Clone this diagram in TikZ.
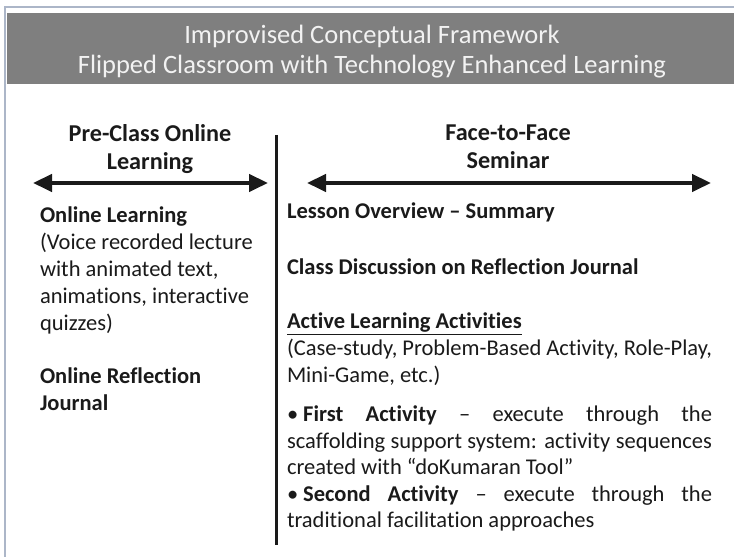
\documentclass[tikz,border=0pt]{standalone}
\usepackage{fontspec}
\setmainfont{Carlito}[Ligatures=NoCommon]
\usetikzlibrary{arrows.meta}

\tikzset{
  titletext/.style={text=titleColor,anchor=base,inner sep=0pt,outer sep=0pt,font=\fontsize{26.5}{30}\selectfont},
  headtext/.style={text=inkColor,anchor=base,inner sep=0pt,outer sep=0pt,align=center,font=\fontsize{24.2}{28}\selectfont\bfseries},
  bodytext/.style={text=inkColor,anchor=base west,inner sep=0pt,outer sep=0pt,font=\fontsize{22.5}{27}\selectfont},
  twoway/.style={draw=inkColor,line width=4.5pt,{Triangle[length=19pt,width=17pt]}-{Triangle[length=19pt,width=17pt]}},
}

\begin{document}
\begin{tikzpicture}[x=1pt,y=1pt]
\definecolor{fillColor}{RGB}{255,255,255}
\definecolor{frameColor}{RGB}{172,182,200}
\definecolor{bandColor}{RGB}{127,127,127}
\definecolor{titleColor}{RGB}{242,242,242}
\definecolor{inkColor}{RGB}{26,26,26}
\path[use as bounding box,fill=fillColor] (0,0) rectangle (734,557);

% frame and title band
\path[draw=frameColor,line width= 2pt] (  5.00,  0.00) -- (  5.00,550.00) -- (734.00,550.00);

\path[fill=bandColor] (  7.00,473.00) rectangle (734.00,544.00);

\node[titletext] (title1) at (372.00,513.00) {Improvised Conceptual Framework};

\node[titletext] (title2) at (372.00,483.00) {Flipped Classroom with Technology Enhanced Learning};

% column headings (base = last line)
\node[headtext] (preclass) at (150.00,387.00) {Pre-Class Online\\Learning};

\node[headtext] (seminar) at (508.00,388.00) {Face-to-Face\\Seminar};

\coordinate (preL) at ( 33.00,374.00);
\coordinate (preR) at (268.00,374.00);
\coordinate (semL) at (307.00,374.00);
\coordinate (semR) at (711.00,374.00);

\path[twoway] (preL) -- (preR);

\path[twoway] (semL) -- (semR);

% divider
\coordinate (divTop) at (276.00,422.00);
\coordinate (divBot) at (276.00, 12.00);

\path[draw=inkColor,line width= 3pt] (divTop) -- (divBot);

% pre-class column
\node[bodytext,align=left] (online) at ( 40.00,226.00) {\textbf{Online Learning}\\(Voice recorded lecture\\with animated text,\\animations, interactive\\quizzes)};

\node[bodytext,align=left] (journal) at ( 40.00,146.00) {\textbf{Online Reflection}\\\textbf{Journal}};

% seminar column (text width: base = first line)
\node[bodytext] (overview) at (287.00,338.00) {\textbf{Lesson Overview -- Summary}};

\node[bodytext] (discuss) at (287.00,282.00) {\textbf{Class Discussion on Reflection Journal}};

\node[bodytext,text width=425pt,align=justify] (active) at (287.00,228.00) {\textbf{\underline{Active Learning Activities}}\\(Case-study, Problem-Based Activity, Role-Play,\linebreak Mini-Game, etc.)};

\node[bodytext,text width=425pt,align=justify,font=\fontsize{22.5}{26.5}\selectfont] (steps) at (287.00,135.00) {•\hspace{5pt}\textbf{First Activity} – execute through the\linebreak scaffolding support system: activity sequences\linebreak created with “doKumaran Tool”\\•\hspace{5pt}\textbf{Second Activity} – execute through the\linebreak traditional facilitation approaches};
\end{tikzpicture}
\end{document}
